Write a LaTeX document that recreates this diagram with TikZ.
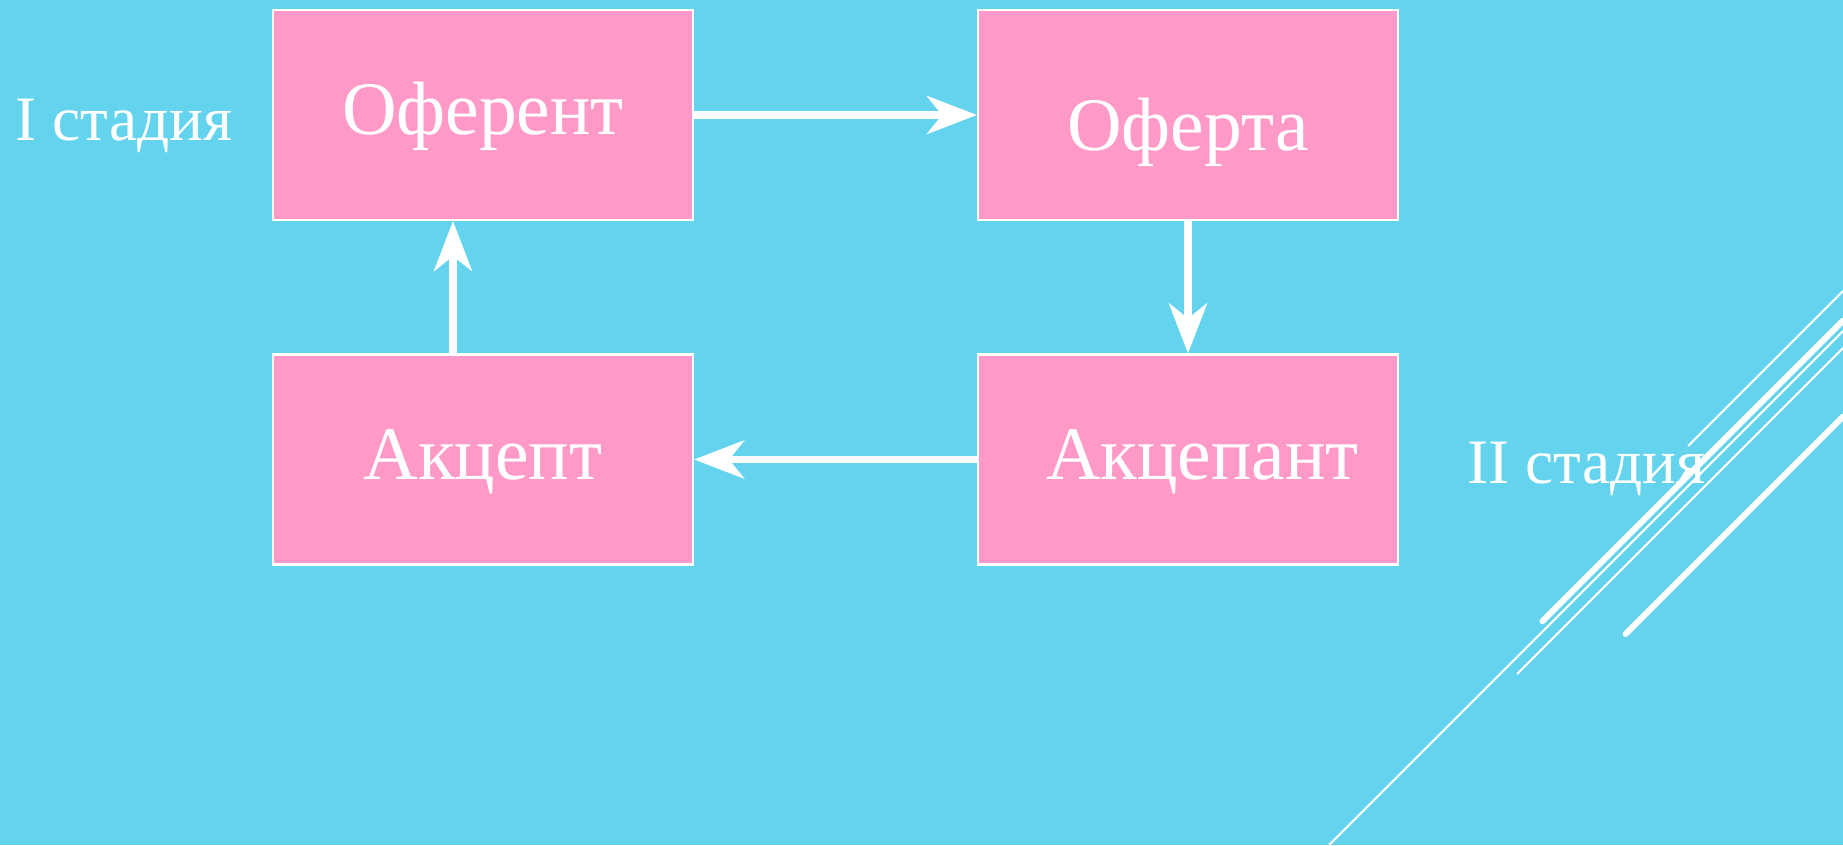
\documentclass[tikz,border=0pt]{standalone}
\usepackage{fontspec}
\setmainfont{Liberation Serif}
\usetikzlibrary{arrows.meta}
\definecolor{sky}{RGB}{100,212,238}
\definecolor{rose}{RGB}{255,153,200}

\begin{document}
\begin{tikzpicture}
  [x=1cm,y=1cm,
   box/.style={draw=white,line width=0.6pt,fill=rose,minimum width=4.2cm,minimum height=2.1cm,inner sep=0pt},
   word/.style={anchor=base,text=white,font=\fontsize{21.5}{26}\selectfont,inner sep=0pt},
   stage/.style={anchor=base west,text=white,font=\fontsize{18}{22}\selectfont,inner sep=0pt},
   arr/.style={white,line width=2.1pt,-{Stealth[length=5mm,width=3.8mm,inset=1.5mm]}},
   thinline/.style={white,line width=0.6pt},
   thickline/.style={white,line width=1.7pt,line cap=round}]
  \fill[sky] (0,0) rectangle (18.43,8.45);
  \useasboundingbox (0,0) rectangle (18.43,8.45);

  % stripes at the right
  \draw[thinline] (16.88,3.99) -- (18.43,5.54);
  \draw[thickline] (15.424,2.238) -- (18.43,5.244);
  \draw[thinline] (13.29,0) -- (18.43,5.14);
  \draw[thinline] (15.17,1.71) -- (18.43,4.97);
  \draw[thickline] (16.255,2.11) -- (18.43,4.285);

  \node[box] (oferent) at (4.83,7.30) {};
  \node[box] (oferta) at (11.88,7.30) {};
  \node[box] (akcept) at (4.83,3.855) {};
  \node[box] (akcepant) at (11.88,3.855) {};

  \node[word] (oferent-t) at ([yshift=-0.20cm]oferent.center) {Оферент};
  \node[word] (oferta-t) at ([yshift=-0.355cm]oferta.center) {Оферта};
  \node[word] (akcept-t) at ([yshift=-0.20cm]akcept.center) {Акцепт};
  \node[word] (akcepant-t) at ([xshift=0.145cm,yshift=-0.20cm]akcepant.center) {Акцепант};

  \node[stage] (stage1) at (0.15,7.05) {I стадия};
  \node[stage] (stage2) at (14.67,3.615) {II стадия};

 \path[arr]
        (oferent) edge (oferta)
        (oferta) edge (akcepant)
        (akcepant) edge (akcept)
        ([xshift=-0.3cm]akcept.north) edge ([xshift=-0.3cm]oferent.south);

\end{tikzpicture}
\end{document}
